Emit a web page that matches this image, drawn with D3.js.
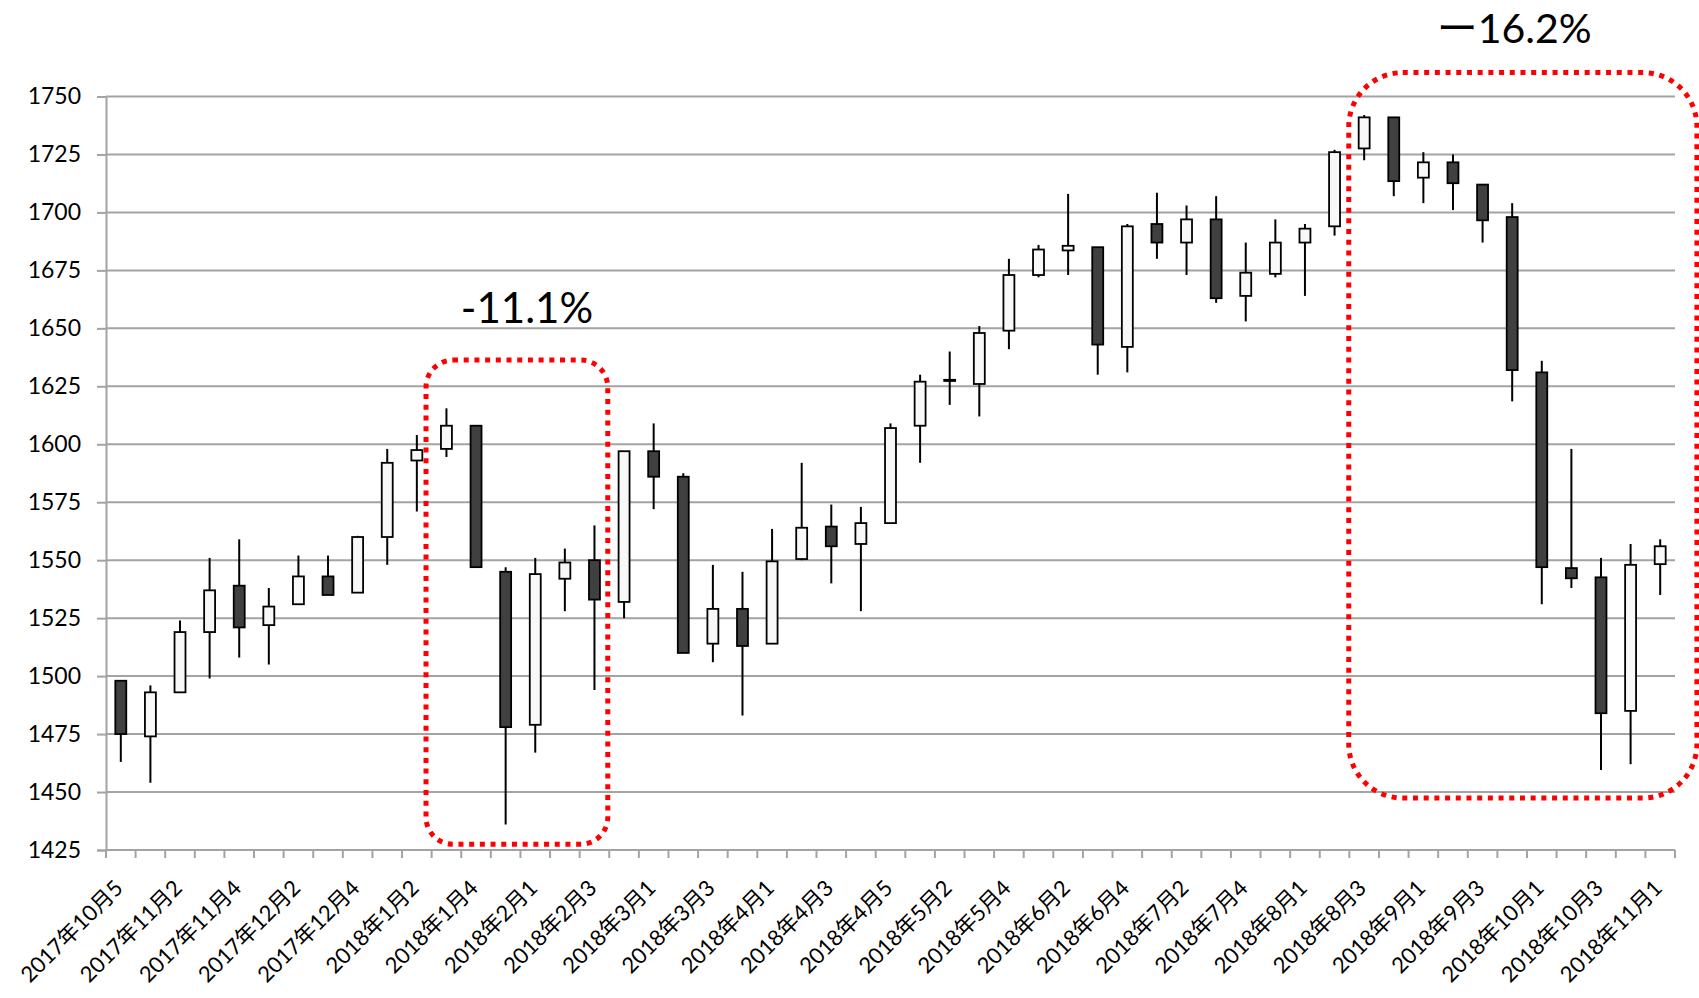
<!DOCTYPE html>
<html>
<head>
<meta charset="utf-8">
<script src="https://cdn.jsdelivr.net/npm/d3@7"></script>
<style>
  html, body { margin: 0; padding: 0; background: #ffffff; }
  svg { display: block; }
  text { font-family: Lato, "Noto Sans CJK JP", sans-serif; fill: #000; }
</style>
</head>
<body>
<svg id="chart" width="1699" height="998"></svg>
<script>
// ---- data ----
const categories = [
  "2017年10月5","2017年11月1","2017年11月2","2017年11月3","2017年11月4",
  "2017年12月1","2017年12月2","2017年12月3","2017年12月4",
  "2018年1月1","2018年1月2","2018年1月3","2018年1月4","2018年1月5",
  "2018年2月1","2018年2月2","2018年2月3","2018年2月4",
  "2018年3月1","2018年3月2","2018年3月3","2018年3月4",
  "2018年4月1","2018年4月2","2018年4月3","2018年4月4","2018年4月5",
  "2018年5月1","2018年5月2","2018年5月3","2018年5月4",
  "2018年6月1","2018年6月2","2018年6月3","2018年6月4",
  "2018年7月1","2018年7月2","2018年7月3","2018年7月4","2018年7月5",
  "2018年8月1","2018年8月2","2018年8月3","2018年8月4",
  "2018年9月1","2018年9月2","2018年9月3","2018年9月4",
  "2018年10月1","2018年10月2","2018年10月3","2018年10月4",
  "2018年11月1"
];
const openValues = [
  1498,1474,1493,1519,1539,1522,1531,1543,1536,1560,1593,1598,1608,1545,1479,1542,1550,1532,1597,1586,
  1514,1529,1514,1550.5,1564.5,1557,1566,1608,1627.3,1626,1649,1673,1683.6,1685,1642,1695,1687,1697,1664,1673.5,
  1687,1694,1727.6,1741,1715,1721.6,1712,1698,1631,1546.6,1542.6,1485,1548.3
];
const highValues = [
  1498,1496,1524,1551,1559,1538,1552,1552,1560.5,1598,1604,1615.5,1608,1547,1551,1555,1565,1597,1609,1587.5,
  1548,1545,1563.5,1592,1574,1573,1609,1630,1640,1651,1680,1686,1708,1685,1695,1708.5,1703,1707,1687,1697,
  1695,1727,1742,1741,1726,1725,1712,1704,1636,1598,1551,1557,1559
];
const lowValues = [
  1463,1454,1493,1499,1508,1505,1531,1535,1536,1548,1571,1594.5,1547,1436,1467,1528,1494,1525,1572,1510,
  1506,1483,1514,1550,1540,1528,1566,1592,1617,1612,1641,1672,1673,1630,1631,1680,1673,1661,1653,1672,
  1664,1690,1722.5,1707,1704,1701,1687,1618.5,1531,1538,1459.5,1462,1535
];
const closeValues = [
  1475,1493,1519,1537,1521,1530,1543,1535,1560,1592,1597.5,1608,1547,1478,1544,1549,1533,1597,1586,1510,
  1529,1513,1549.5,1564,1556,1566,1607,1627,1627.8,1648,1673,1684,1685.6,1643,1694,1687,1697,1663,1674,1687,
  1693,1726,1741,1713.5,1721.6,1712.6,1696.6,1632,1547,1542.2,1484,1548,1556
];
const yTicks = [1425,1450,1475,1500,1525,1550,1575,1600,1625,1650,1675,1700,1725,1750];
const annotationTexts = ["-11.1%", "ー16.2%"];

// ---- layout ----
const W = 1699, H = 998;
const plot = { left: 106, right: 1675, top: 96.5, bottom: 850 };
const svg = d3.select("#chart");
svg.append("rect").attr("width", W).attr("height", H).attr("fill", "#fff");

const x = d3.scaleBand().domain(categories).range([plot.left, plot.right]).paddingInner(0).paddingOuter(0);
const y = d3.scaleLinear().domain([1425, 1750]).range([plot.bottom, plot.top]);
const bw = x.bandwidth();
const xIdx = i => plot.left + i * bw;   // position at fractional category index

const gridColor = "#a3a3a3";

// gridlines
svg.append("g").selectAll("line").data(yTicks.filter(v => v !== 1425)).join("line")
  .attr("x1", plot.left).attr("x2", plot.right)
  .attr("y1", d => y(d)).attr("y2", d => y(d))
  .attr("stroke", gridColor).attr("stroke-width", 2);

// y axis
const yAxis = d3.axisLeft(y).tickValues(yTicks).tickSize(9).tickPadding(16).tickFormat(d3.format("d"));
const gy = svg.append("g").attr("transform", `translate(${plot.left},0)`).call(yAxis);
gy.select(".domain").attr("stroke", gridColor).attr("stroke-width", 2);
gy.selectAll(".tick line").attr("stroke", gridColor).attr("stroke-width", 2);
gy.selectAll(".tick text").attr("font-size", 23).attr("font-family", "Lato, 'Noto Sans CJK JP', sans-serif").attr("fill", "#000");

// x axis line + boundary ticks
const gx = svg.append("g");
gx.append("line").attr("x1", plot.left).attr("x2", plot.right)
  .attr("y1", plot.bottom).attr("y2", plot.bottom)
  .attr("stroke", gridColor).attr("stroke-width", 2);
gx.selectAll("line.tk").data(d3.range(categories.length + 1)).join("line")
  .attr("class", "tk")
  .attr("x1", d => xIdx(d)).attr("x2", d => xIdx(d))
  .attr("y1", plot.bottom).attr("y2", plot.bottom + 8)
  .attr("stroke", gridColor).attr("stroke-width", 2);
gx.selectAll("text").data(categories.filter((c, i) => i % 2 === 0)).join("text")
  .attr("transform", d => `translate(${x(d) + bw / 2 - 2},${plot.bottom + 34}) rotate(-45)`)
  .attr("text-anchor", "end")
  .attr("dy", "0.35em")
  .attr("font-size", 22)
  .text(d => d);

// candles
const candles = categories.map((c, i) => ({
  c, o: openValues[i], h: highValues[i], l: lowValues[i], cl: closeValues[i]
}));
const bodyW = bw * 0.37;
const gc = svg.append("g");
gc.selectAll("line.wick").data(candles).join("line")
  .attr("class", "wick")
  .attr("x1", d => x(d.c) + bw / 2).attr("x2", d => x(d.c) + bw / 2)
  .attr("y1", d => y(d.h)).attr("y2", d => y(d.l))
  .attr("stroke", "#000").attr("stroke-width", 2);
gc.selectAll("rect.body").data(candles).join("rect")
  .attr("class", "body")
  .attr("x", d => x(d.c) + bw / 2 - bodyW / 2)
  .attr("width", bodyW)
  .attr("y", d => y(Math.max(d.o, d.cl)))
  .attr("height", d => Math.max(0.8, Math.abs(y(d.o) - y(d.cl))))
  .attr("fill", d => d.cl < d.o ? "#404040" : "#f8f8f8")
  .attr("stroke", "#000").attr("stroke-width", 1.8);

// annotation boxes (red dotted rounded rectangles)
const boxes = [
  { i0: 10.81, i1: 16.95, vTop: 1636.3, vBot: 1427.5, r: 27 },
  { i0: 41.98, i1: 53.74, vTop: 1760.3, vBot: 1447.4, r: 54 }
];
svg.append("g").selectAll("rect").data(boxes).join("rect")
  .attr("x", d => xIdx(d.i0)).attr("width", d => xIdx(d.i1) - xIdx(d.i0))
  .attr("y", d => y(d.vTop)).attr("height", d => y(d.vBot) - y(d.vTop))
  .attr("rx", d => d.r).attr("ry", d => d.r)
  .attr("fill", "none").attr("stroke", "#ff0000")
  .attr("stroke-width", 5).attr("stroke-dasharray", "5 5.7");

// percent labels
const labelPos = [ { i: 14.22, v: 1652.2 }, { i: 47.57, v: 1773.2 } ];
svg.append("g").selectAll("text").data(annotationTexts).join("text")
  .attr("x", (d, k) => xIdx(labelPos[k].i))
  .attr("y", (d, k) => y(labelPos[k].v))
  .attr("text-anchor", "middle")
  .attr("font-size", (d, k) => k === 1 ? 41 : 42)
  .text(d => d);
</script>
</body>
</html>
